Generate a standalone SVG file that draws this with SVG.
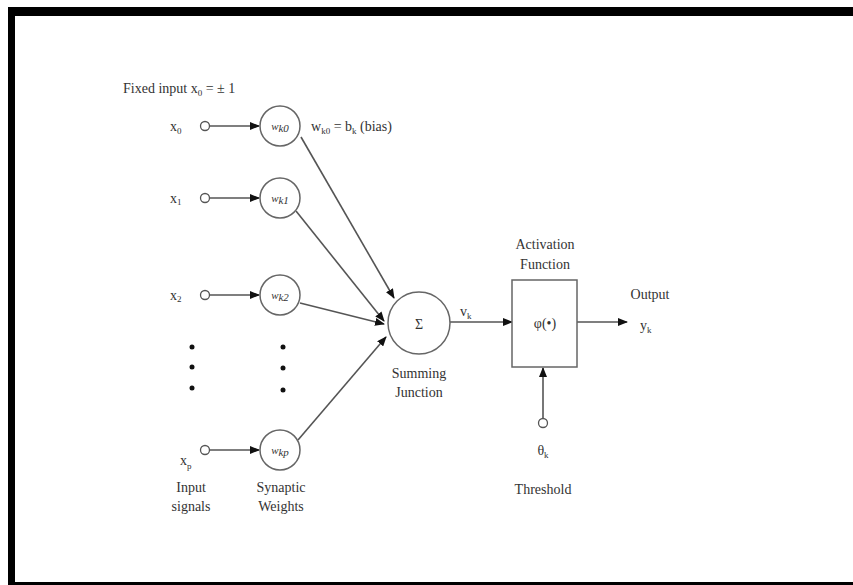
<svg xmlns="http://www.w3.org/2000/svg" width="853" height="585" viewBox="0 0 853 585">
<style>
text{font-family:"Liberation Serif","Times New Roman",serif;font-size:14px;fill:#333;}
.c{text-anchor:middle;}
.ln{stroke:#555;stroke-width:1.6;fill:none;}
.node{stroke:#666;stroke-width:1.5;fill:#fff;}
.in{stroke:#555;stroke-width:1.3;fill:#fff;}
.w{font-style:italic;font-size:11px;}
.dot{fill:#111;}
</style>
<defs>
<marker id="ah" markerWidth="10" markerHeight="8" refX="9" refY="4" orient="auto" markerUnits="userSpaceOnUse">
<path d="M0,0 L10,4 L0,8 Z" fill="#111"/>
</marker>
</defs>
<rect x="0" y="0" width="853" height="585" fill="#fff"/>
<g id="frame">
<rect x="8" y="7" width="845" height="9" fill="#000"/>
<rect x="8" y="7" width="7" height="578" fill="#000"/>
<rect x="8" y="582" width="845" height="3" fill="#000"/>
</g>
<g id="connectors">
<line class="ln" x1="210" y1="126" x2="259" y2="126" marker-end="url(#ah)"/>
<line class="ln" x1="210" y1="198" x2="259" y2="198" marker-end="url(#ah)"/>
<line class="ln" x1="210" y1="295" x2="259" y2="295" marker-end="url(#ah)"/>
<line class="ln" x1="210" y1="450" x2="259" y2="450" marker-end="url(#ah)"/>
<line class="ln" x1="301" y1="137" x2="394" y2="298" marker-end="url(#ah)"/>
<line class="ln" x1="296" y1="211" x2="384" y2="321" marker-end="url(#ah)"/>
<line class="ln" x1="300" y1="303" x2="384" y2="324" marker-end="url(#ah)"/>
<line class="ln" x1="298" y1="440" x2="386" y2="337" marker-end="url(#ah)"/>
<line class="ln" x1="450" y1="322" x2="512" y2="322" marker-end="url(#ah)"/>
<line class="ln" x1="577" y1="322" x2="627" y2="322" marker-end="url(#ah)"/>
<line class="ln" x1="543" y1="418" x2="543" y2="368" marker-end="url(#ah)"/>
</g>
<g id="fixed-input-label"><text x="123" y="93">Fixed input x<tspan font-size="9" dy="3">0</tspan><tspan dy="-3"> = ± 1</tspan></text></g>
<g id="x0"><text x="170" y="131">x<tspan font-size="9" dy="3">0</tspan></text><circle class="in" cx="205" cy="126" r="4.5"/></g>
<g id="x1"><text x="170" y="203">x<tspan font-size="9" dy="2">1</tspan></text><circle class="in" cx="205" cy="198" r="4.5"/></g>
<g id="x2"><text x="170" y="300">x<tspan font-size="9" dy="2">2</tspan></text><circle class="in" cx="205" cy="295" r="4.5"/></g>
<g id="xp"><text x="180" y="465">x<tspan font-size="9" dy="4">p</tspan></text><circle class="in" cx="205" cy="450" r="4.5"/></g>
<g id="wk0"><circle class="node" cx="280" cy="126" r="20"/><text class="c w" x="280" y="130">w<tspan dy="2">k0</tspan></text></g>
<g id="bias-label"><text x="311" y="131" font-size="13">w<tspan font-size="9" dy="3">k0</tspan><tspan dy="-3"> = b</tspan><tspan font-size="9" dy="3">k</tspan><tspan dy="-3"> (bias)</tspan></text></g>
<g id="wk1"><circle class="node" cx="280" cy="198" r="20"/><text class="c w" x="280" y="202">w<tspan dy="2">k1</tspan></text></g>
<g id="wk2"><circle class="node" cx="280" cy="295" r="20"/><text class="c w" x="280" y="299">w<tspan dy="2">k2</tspan></text></g>
<g id="wkp"><circle class="node" cx="280" cy="450" r="20"/><text class="c w" x="280" y="454">w<tspan dy="2">kp</tspan></text></g>
<g id="dots">
<circle class="dot" cx="192" cy="347" r="2.5"/><circle class="dot" cx="192" cy="367" r="2.5"/><circle class="dot" cx="192" cy="388" r="2.5"/>
<circle class="dot" cx="283" cy="347" r="2.5"/><circle class="dot" cx="283" cy="368" r="2.5"/><circle class="dot" cx="283" cy="390" r="2.5"/>
</g>
<g id="input-signals-label"><text class="c" x="191" y="492">Input</text><text class="c" x="191" y="511" font-size="13">signals</text></g>
<g id="synaptic-weights-label"><text class="c" x="281" y="492">Synaptic</text><text class="c" x="281" y="511">Weights</text></g>
<g id="summing"><circle class="node" cx="419" cy="323" r="31"/><text class="c" x="419" y="329" font-size="17">Σ</text>
<text class="c" x="419" y="378">Summing</text><text class="c" x="419" y="397">Junction</text></g>
<g id="vk-label"><text x="460" y="316">v<tspan font-size="9" dy="3">k</tspan></text></g>
<g id="activation"><rect class="node" x="512" y="280" width="65" height="87"/><text class="c" x="545" y="328">φ(•)</text>
<text class="c" x="545" y="249">Activation</text><text class="c" x="545" y="269">Function</text></g>
<g id="output"><text class="c" x="650" y="299">Output</text><text x="640" y="330">y<tspan font-size="9" dy="3">k</tspan></text></g>
<g id="threshold"><circle class="in" cx="543" cy="423" r="4.5"/><text class="c" x="543" y="455">θ<tspan font-size="9" dy="3">k</tspan></text><text class="c" x="543" y="494">Threshold</text></g>
</svg>
